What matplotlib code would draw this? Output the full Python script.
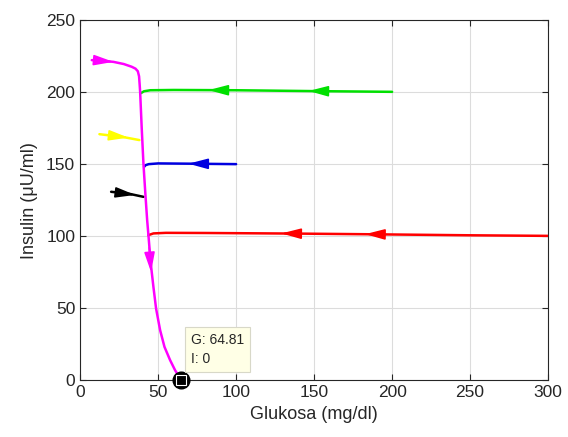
import numpy as np
import matplotlib
matplotlib.use("Agg")
import matplotlib.pyplot as plt

plt.rcParams["font.family"] = ["Liberation Sans", "DejaVu Sans"]

# trajectories (Glukosa, Insulin)
mag_g = [7.5, 14.0, 21.4, 28.0, 33.1, 35.5, 37.0, 37.8, 38.2, 38.5, 39.5, 40.6, 41.8, 43.0,
         43.8, 45.3, 47.0, 48.7, 51.3, 54.1, 57.7, 60.9, 64.81]
mag_i = [222.2, 221.8, 221.0, 219.5, 217.6, 216.3, 214.5, 211.0, 205.0, 200.0, 175.0, 150.5, 130.0, 111.0,
         100.7, 81.0, 64.8, 49.8, 34.7, 23.1, 13.9, 6.9, 0.0]

grn_g = [200.0, 150.0, 100.0, 60.0, 45.0, 41.0, 39.0]
grn_i = [200.2, 200.7, 201.3, 201.5, 201.3, 200.6, 199.3]

blu_g = [100.0, 72.0, 50.0, 44.0, 42.0, 41.0]
blu_i = [150.0, 150.3, 150.5, 150.0, 149.3, 148.1]

red_g = [300.0, 250.0, 187.0, 137.0, 80.0, 55.0, 47.0, 43.8]
red_i = [100.2, 100.6, 101.3, 101.8, 102.2, 102.3, 101.9, 100.7]

yel_g = [12.4, 27.7, 38.0]
yel_i = [170.8, 168.8, 166.7]

blk_g = [19.9, 32.0, 40.6]
blk_i = [130.8, 129.3, 127.3]

# arrow heads: colour, tip (g, i), tail (g, i)
arrows = [
    ("#ff00ff", (21.4, 221.0), (11.0, 222.0)),
    ("#ff00ff", (45.5, 75.0), (44.3, 92.0)),
    ("#00e000", (146.4, 200.8), (160.0, 200.6)),
    ("#00e000", (82.3, 201.4), (96.0, 201.3)),
    ("#0000e0", (69.4, 150.3), (83.0, 150.2)),
    ("#ff0000", (182.7, 101.4), (196.0, 101.2)),
    ("#ff0000", (129.0, 101.9), (142.0, 101.7)),
    ("#ffff00", (31.0, 168.4), (20.0, 169.8)),
    ("#000000", (35.3, 128.6), (24.0, 130.2)),
]

tip_g, tip_i = 64.81, 0

fig = plt.figure(figsize=(5.68, 4.37), dpi=100)
ax = fig.add_axes([0.141, 0.130, 0.824, 0.824])

lines = [
    (grn_g, grn_i, "#00e000"),
    (blu_g, blu_i, "#0000e0"),
    (red_g, red_i, "#ff0000"),
    (yel_g, yel_i, "#ffff00"),
    (blk_g, blk_i, "#000000"),
    (mag_g, mag_i, "#ff00ff"),
]
for g, i, c in lines:
    ax.plot(g, i, color=c, lw=1.8, solid_capstyle="round", solid_joinstyle="round", zorder=3)

for c, tip, tail in arrows:
    ax.annotate("", xy=tip, xytext=tail,
                arrowprops=dict(arrowstyle="-|>,head_length=1.2,head_width=0.32",
                                color=c, lw=1.2, mutation_scale=10,
                                shrinkA=0, shrinkB=0),
                zorder=4)

# data tip
ax.plot(tip_g, tip_i, "o", ms=12, color="black", clip_on=False, zorder=6)
ax.plot(tip_g, tip_i, "s", ms=7, mfc="black", mec="white", mew=0.8, clip_on=False, zorder=7)
ax.text(71, 33, f"G: {tip_g:.2f}\nI: {tip_i:g}", fontsize=10, va="top", ha="left",
        color="#262626", linespacing=1.5, zorder=8,
        bbox=dict(boxstyle="square,pad=0.4", fc="#ffffe6", ec="#d8d8c8", lw=0.8))

ax.set_xlim(0, 300)
ax.set_ylim(0, 250)
ax.set_xticks(range(0, 301, 50))
ax.set_yticks(range(0, 251, 50))
ax.grid(True, color="#dcdcdc", lw=0.8)
ax.set_axisbelow(True)
ax.tick_params(direction="in", top=True, right=True, length=4,
               labelsize=12.5, colors="#262626")
for s in ax.spines.values():
    s.set_color("#262626")
    s.set_linewidth(0.8)
ax.set_xlabel("Glukosa (mg/dl)", fontsize=13, color="#262626", labelpad=4)
ax.set_ylabel("Insulin (μU/ml)", fontsize=13, color="#262626", labelpad=6)

fig.savefig("out.png", dpi=100)
